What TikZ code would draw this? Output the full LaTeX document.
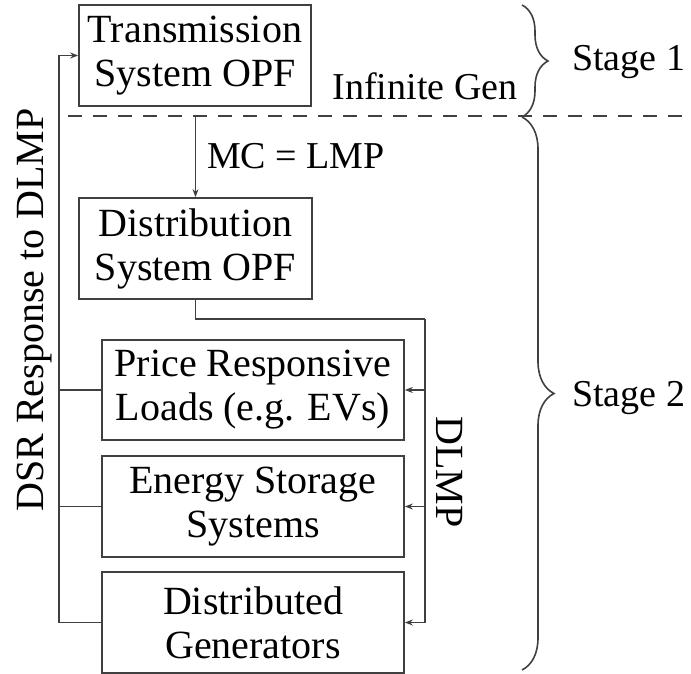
\documentclass[tikz,border=0pt]{standalone}
\usepackage{fontspec}
\setmainfont{Liberation Serif}
\usetikzlibrary{arrows.meta,decorations.pathreplacing,calc}
\definecolor{linegray}{HTML}{404040}
\begin{document}
\begin{tikzpicture}[x=1pt,y=-1pt,
  wire/.style={draw=linegray, line width=1.7pt},
  arrowwire/.style={wire, -{Stealth[length=8pt,width=6pt]}},
  blockbox/.style={draw=linegray, line width=1.7pt, inner sep=0pt,
    minimum height=101pt, align=center,
    font=\fontsize{40}{44}\selectfont},
  label/.style={inner sep=0pt, font=\fontsize{38}{44}\selectfont},
  biglabel/.style={inner sep=0pt, font=\fontsize{40}{44}\selectfont},
  bracedeco/.style={draw=linegray, line width=1.6pt, decorate,
    decoration={brace, amplitude=#1, aspect=0.5}}
]
\useasboundingbox (0,0) rectangle (691,674);

% optimisation blocks
\node[blockbox, minimum width=232pt] (tr) at (195,55.5) {Transmission\\System OPF};
\node[blockbox, minimum width=233pt] (ds) at (195.5,248.5) {Distribution\\System OPF};
\node[blockbox, minimum width=302pt, minimum height=100pt] (pr) at (253,390) {Price Responsive\\Loads (e.g. EVs)};
\node[blockbox, minimum width=302pt] (es) at (253,506.5) {Energy Storage\\Systems};
\node[blockbox, minimum width=302pt] (dg) at (253,622.5) {Distributed\\Generators};

% stage boundary
\coordinate (dashL) at (68,116);
\coordinate (dashR) at (691,116);
\draw[wire, dash pattern=on 14pt off 11pt] (dashL) -- (dashR);
\node[label, anchor=base] (inf) at (425,100) {Infinite Gen};

% price signal from transmission to distribution
\coordinate (gen) at (ds.north |- dashL);
\draw[arrowwire] (gen) -- (ds.north);
\node[label, anchor=base west] (mc) at (207,168) {MC = LMP};

% DLMP distribution bus on the right
\coordinate (rb) at (425,319);
\draw[wire] (ds.south) |- (rb);
\draw[arrowwire] (rb) |- (dg.east);
\draw[arrowwire] (rb |- pr.east) -- (pr.east);
\draw[arrowwire] (rb |- es.east) -- (es.east);
\node[biglabel, rotate=-90, anchor=base] (dlmp) at (436,472) {DLMP};

% DSR feedback bus on the left
\coordinate (lb) at (59,0);
\draw[wire] (pr.west) -- (lb |- pr.west);
\draw[wire] (es.west) -- (lb |- es.west);
\draw[arrowwire] (dg.west) -| (lb |- tr.west) -- (tr.west);
\node[biglabel, rotate=90, anchor=base] (dsr) at (43,310) {DSR Response to DLMP};

% stage braces
\coordinate (b1t) at (522,5);
\coordinate (b1b) at (522,117);
\coordinate (b2t) at (522,117);
\coordinate (b2b) at (522,670);
\draw[bracedeco=26pt] (b1t) -- (b1b);
\draw[bracedeco=32pt] (b2t) -- (b2b);
\node[label, anchor=west] (s1) at (572,62) {Stage 1};
\node[label, anchor=west] (s2) at (572,398) {Stage 2};
\end{tikzpicture}
\end{document}
